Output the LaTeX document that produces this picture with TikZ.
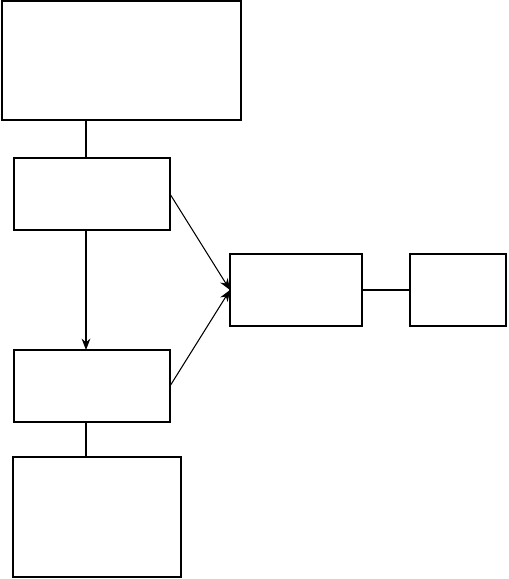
\documentclass[tikz,border=0pt]{standalone}
\usepackage{tikz}
\usetikzlibrary{arrows.meta, positioning}

\begin{document}
\begin{tikzpicture}[
box/.style={rectangle, draw, line width=0.7pt, inner sep=0pt, outer sep=0pt},
arr/.style={-{Stealth[length=6.5pt, width=5pt]}, line width=0.6pt},
ln/.style={line width=0.6pt} ]
\useasboundingbox (0,0) rectangle (10.16,-11.58);
\node[box, minimum width=4.78cm, minimum height=2.38cm] (top) at (2.43,-1.21) {};
\node[box, minimum width=3.12cm, minimum height=1.44cm] (upper) at (1.84,-3.88) {};
\node[box, minimum width=3.12cm, minimum height=1.44cm] (lower) at (1.84,-7.72) {};
\node[box, minimum width=3.36cm, minimum height=2.40cm] (bottom) at (1.94,-10.34) {};
\node[box, minimum width=2.64cm, minimum height=1.44cm] (mid) at (5.92,-5.80) {};
\node[box, minimum width=1.92cm, minimum height=1.44cm] (side) at (9.16,-5.80) {};
\coordinate (col) at (1.72,0);
\draw[ln] (top.south -| col) -- (upper.north -| col);
\draw[arr] (upper.south -| col) -- (lower.north -| col);
\draw[ln] (lower.south -| col) -- (bottom.north -| col);
\draw[arr] (upper.east) -- (mid.west);
\draw[arr] (lower.east) -- (mid.west);
\draw[ln] (mid.east) -- (side.west);
\end{tikzpicture}
\end{document}
